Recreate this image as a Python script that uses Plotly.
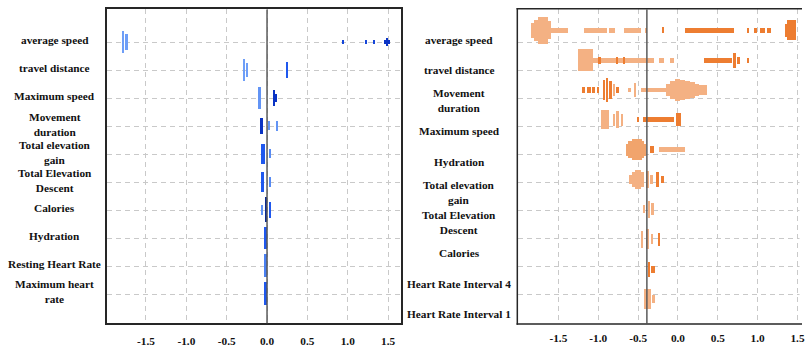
import plotly.graph_objects as go

W, H = 805, 347

# ---------------- data ----------------
LEFT_FEATURES = ["average speed", "travel distance", "Maximum speed", "Movement<br>duration",
                 "Total elevation<br>gain", "Total Elevation<br>Descent", "Calories", "Hydration",
                 "Resting Heart Rate", "Maximum heart<br>rate"]
RIGHT_FEATURES = ["average speed", "travel distance", "Movement<br>duration", "Maximum speed",
                  "Hydration", "Total elevation<br>gain", "Total Elevation<br>Descent", "Calories",
                  "Heart Rate Interval 4", "Heart Rate Interval 1"]
X_TICKS = [-1.5, -1.0, -0.5, 0.0, 0.5, 1.0, 1.5]
LEFT_REF = 0.0
RIGHT_REF = -0.39

# left panel clusters of SHAP values: feature row, value from, value to, stack density, feature level
LEFT_ROW = [0, 0, 0, 0, 0, 0, 0,
            1, 1, 1,
            2, 2, 2,
            3, 3, 3,
            4, 4,
            5, 5,
            6, 6, 6,
            7,
            8,
            9]
LEFT_LO = [-1.790, -1.745, 0.940, 1.220, 1.320, 1.450, 1.470,
           -0.290, -0.255, 0.243,
           -0.100, 0.078, 0.100,
           -0.095, 0.016, 0.115,
           -0.075, 0.033,
           -0.075, 0.033,
           -0.070, -0.020, 0.033,
           -0.025,
           -0.025,
           -0.025]
LEFT_HI = [-1.790, -1.745, 0.940, 1.220, 1.320, 1.520, 1.500,
           -0.290, -0.255, 0.243,
           -0.100, 0.078, 0.100,
           -0.060, 0.016, 0.115,
           -0.035, 0.033,
           -0.040, 0.033,
           -0.070, -0.020, 0.033,
           -0.025,
           -0.025,
           -0.025]
LEFT_STACK = [23, 16, 5, 5, 5, 5, 8,
              22, 15, 16,
              23, 16, 9,
              16, 9, 10,
              20, 9,
              20, 10,
              10, 25, 16,
              22,
              23,
              23]
LEFT_LEVEL = [0.0, 0.0, 0.75, 0.75, 0.75, 0.9, 0.9,
              0.0, 0.0, 0.6,
              0.1, 0.9, 0.9,
              0.9, 0.1, 0.1,
              0.6, 0.2,
              0.6, 0.2,
              0.1, 1.0, 0.6,
              0.6,
              0.3,
              0.6]

# right panel clusters
RIGHT_ROW = [0] * 17 + [1] * 11 + [2] * 21 + [3] * 7 + [4] * 7 + [5] * 8 + [6] * 3 + [7] * 4 + [8] * 2 + [9] * 2
RIGHT_LO = [
    # average speed
    -1.847, -1.800, -1.756, -1.630, -1.597, -1.181, -0.870, -0.672, -0.400, -0.185,
    0.085, 0.878, 0.973, 1.030, 1.120, 1.340, 1.370,
    # travel distance
    -1.256, -1.069, -1.000, -0.780, -0.695, -0.235, -0.098, 0.328, 0.710, 0.744, 0.878,
    # movement duration
    -1.206, -1.138, -1.075, -1.013, -0.931, -0.890, -0.848, -0.798, -0.778, -0.631, -0.540,
    -0.465, -0.150, -0.100, -0.040, 0.030, 0.090, 0.150, 0.210, 0.270, 0.330,
    # maximum speed
    -0.965, -0.798, -0.756, -0.700, -0.498, -0.444, -0.020,
    # hydration
    -0.653, -0.620, -0.580, -0.450, -0.420, -0.350, -0.235,
    # total elevation gain
    -0.610, -0.575, -0.540, -0.460, -0.381, -0.331, -0.256, -0.215,
    # total elevation descent
    -0.4225, -0.360, -0.319,
    # calories
    -0.448, -0.381, -0.325, -0.240,
    # heart rate interval 4
    -0.365, -0.340,
    # heart rate interval 1
    -0.4225, -0.306,
]
RIGHT_HI = [
    -1.800, -1.756, -1.630, -1.597, -1.381, -0.890, -0.790, -0.465, -0.400, -0.185,
    0.703, 0.878, 0.973, 1.090, 1.170, 1.370, 1.480,
    -1.069, -0.298, -0.970, -0.750, -0.665, -0.172, -0.048, 0.681, 0.710, 0.785, 0.878,
    -1.169, -1.094, -1.038, -0.985, -0.931, -0.890, -0.848, -0.798, -0.735, -0.590, -0.540,
    -0.131, -0.100, -0.040, 0.030, 0.090, 0.150, 0.210, 0.270, 0.330, 0.370,
    -0.860, -0.798, -0.756, -0.700, -0.498, -0.044, 0.045,
    -0.620, -0.580, -0.450, -0.420, -0.403, -0.294, 0.085,
    -0.575, -0.540, -0.460, -0.423, -0.381, -0.331, -0.256, -0.173,
    -0.4225, -0.360, -0.319,
    -0.448, -0.381, -0.325, -0.240,
    -0.365, -0.290,
    -0.340, -0.306,
]
RIGHT_STACK = [
    15, 21, 27, 18, 5, 5, 5, 5, 5, 6,
    5, 5, 5, 5, 5, 13, 20,
    23, 5, 7, 7, 7, 5, 5, 5, 15, 7, 5,
    6, 6, 6, 6, 20, 24, 18, 12, 7, 5, 15,
    5, 12, 18, 22, 20, 18, 16, 13, 11, 10,
    19, 12, 17, 12, 5, 5, 13,
    12, 17, 21, 17, 12, 7, 5,
    10, 16, 20, 16, 18, 10, 16, 7,
    8, 17, 12,
    17, 20, 10, 13,
    15, 7,
    20, 8,
]
RIGHT_LEVEL = [
    0, 0, 0, 0, 0, 0, 0, 0, 0, 1,
    1, 1, 1, 1, 1, 1, 1,
    0, 0, 1, 1, 1, 0, 0, 1, 1, 1, 1,
    1, 1, 1, 1, 1, 1, 1, 0, 1, 0, 0,
    0, 0, 0, 0, 0, 0, 0, 0, 0, 0,
    0, 0, 0, 0, 1, 1, 1,
    0.4, 0.4, 0.4, 0.4, 0.4, 1, 0,
    0, 0, 0, 0, 0, 0, 1, 1,
    0, 0, 0,
    0, 0, 0, 1,
    1, 1,
    0, 0,
]

# ---------------- layout helpers ----------------
def px_x(p):
    return p / W


def px_y(p):
    return 1 - p / H


FONT = "Liberation Serif, Times New Roman, serif"
GRID = "#C9C9C9"
FRAME = "#262626"
MIN_W = 0.03

TOP, BOTTOM = 9.5, 327
L_LEFT, L_RIGHT = 107, 402
R_LEFT = 520
L_YRANGE = [10.04, -1.18]
R_YRANGE = [9.80, -0.712]
L_XRANGE = [-1.988, 1.654]
R_XRANGE = [-2.006, 1.556]


def cluster_bars(lo, hi, stack, yspan):
    ppu = (BOTTOM - TOP) / abs(yspan[0] - yspan[1])
    base, length, thick = [], [], []
    for a, b, s in zip(lo, hi, stack):
        c = (a + b) / 2
        w = max(b - a, MIN_W)
        base.append(c - w / 2)
        length.append(w)
        thick.append(s / ppu)
    return base, length, thick


fig = go.Figure()

lb, ll, lt = cluster_bars(LEFT_LO, LEFT_HI, LEFT_STACK, L_YRANGE)
fig.add_trace(go.Bar(
    orientation="h", y=LEFT_ROW, x=ll, base=lb, width=lt,
    marker=dict(color=LEFT_LEVEL, cmin=0, cmax=1,
                colorscale=[[0, "#6E9EF7"], [0.3, "#4A80F2"], [0.6, "#1F58EE"],
                            [0.9, "#0A33C4"], [1, "#0A2A90"]],
                line=dict(width=0)),
    xaxis="x", yaxis="y", showlegend=False, hoverinfo="skip"))

# empty trace so that the right grid subplot (x2, y2) is created
fig.add_trace(go.Scatter(x=[], y=[], xaxis="x2", yaxis="y2", showlegend=False,
                         hoverinfo="skip"))

rb, rl, rt = cluster_bars(RIGHT_LO, RIGHT_HI, RIGHT_STACK, R_YRANGE)
fig.add_trace(go.Bar(
    orientation="h", y=RIGHT_ROW, x=rl, base=rb, width=rt,
    marker=dict(color=RIGHT_LEVEL, cmin=0, cmax=1,
                colorscale=[[0, "#F4B183"], [0.4, "#F1A46C"], [1, "#ED7D31"]],
                line=dict(width=0)),
    xaxis="x2", yaxis="y3", showlegend=False, hoverinfo="skip"))

tick_text = [f"{v:.1f}" for v in X_TICKS]
xcommon = dict(
    tickvals=X_TICKS, ticktext=tick_text, showgrid=True, gridcolor=GRID, gridwidth=1,
    griddash="5px,4px", zeroline=False, linecolor=FRAME, linewidth=1.5,
    ticks="", tickfont=dict(family=FONT, size=11.3, color="#111", weight="bold"),
    ticklabelstandoff=6, ticklabeloverflow="allow",
)
ygrid = dict(
    tickvals=list(range(10)), showticklabels=False, showgrid=True, gridcolor=GRID,
    gridwidth=1, griddash="5px,4px", zeroline=False, linecolor=FRAME,
    linewidth=1.5, ticks="", range=L_YRANGE,
)

fig.update_layout(
    width=W, height=H, margin=dict(l=0, r=0, t=0, b=0),
    paper_bgcolor="white", plot_bgcolor="white", barmode="overlay", bargap=0,
    xaxis=dict(domain=[px_x(L_LEFT), px_x(L_RIGHT)], range=L_XRANGE, anchor="y",
               showline=True, mirror=True, **xcommon),
    yaxis=dict(domain=[px_y(BOTTOM), px_y(TOP)], anchor="x", showline=True, mirror=True,
               **ygrid),
    xaxis2=dict(domain=[px_x(R_LEFT), 1.0], range=R_XRANGE, anchor="y2",
                showline=False, mirror=False, **xcommon),
    yaxis2=dict(domain=[px_y(BOTTOM), px_y(TOP)], anchor="x2", showline=False, mirror=False,
                side="left", **ygrid),
    yaxis3=dict(overlaying="y2", anchor="x2", side="left", range=R_YRANGE, visible=False,
                showgrid=False, zeroline=False, showline=False, mirror=False),
)

frame = dict(color=FRAME, width=1.5)
shapes = [
    dict(type="line", xref="x", yref="paper", x0=LEFT_REF, x1=LEFT_REF,
         y0=px_y(BOTTOM), y1=px_y(TOP), line=dict(color="#5A5A5A", width=1.5), layer="above"),
    dict(type="line", xref="x2", yref="paper", x0=RIGHT_REF, x1=RIGHT_REF,
         y0=px_y(BOTTOM), y1=px_y(TOP), line=dict(color="#5A5A5A", width=1.5), layer="above"),
    # keep the cut-off right edge of the right panel clean
    dict(type="rect", xref="paper", yref="paper", x0=px_x(W - 2.5), x1=1.0,
         y0=px_y(BOTTOM - 1), y1=px_y(TOP + 1), fillcolor="white", line=dict(width=0),
         layer="above"),
    # frame of the right panel (open on the cut-off right side)
    dict(type="line", xref="paper", yref="paper", x0=px_x(R_LEFT - 0.75), x1=px_x(R_LEFT - 0.75),
         y0=px_y(BOTTOM + 1.5), y1=px_y(TOP - 1.5), line=frame, layer="above"),
    dict(type="line", xref="paper", yref="paper", x0=px_x(R_LEFT - 1.5), x1=1.0,
         y0=px_y(TOP - 0.75), y1=px_y(TOP - 0.75), line=frame, layer="above"),
    dict(type="line", xref="paper", yref="paper", x0=px_x(R_LEFT - 1.5), x1=1.0,
         y0=px_y(BOTTOM + 0.75), y1=px_y(BOTTOM + 0.75), line=frame, layer="above"),
]
fig.update_layout(shapes=shapes)

label_font = dict(family=FONT, size=11.3, color="#111", weight="bold")
annotations = []
for i, name in enumerate(LEFT_FEATURES):
    annotations.append(dict(x=px_x(55), xref="paper", y=i - 0.08, yref="y", text=name,
                            showarrow=False, align="center", xanchor="center",
                            yanchor="middle", font=label_font))
for i, name in enumerate(RIGHT_FEATURES):
    annotations.append(dict(x=px_x(461), xref="paper", y=px_y(40 + 30.9 * i), yref="paper",
                            text=name, showarrow=False, align="center", xanchor="center",
                            yanchor="middle", font=label_font))
fig.update_layout(annotations=annotations)

fig.write_html("out.html")
